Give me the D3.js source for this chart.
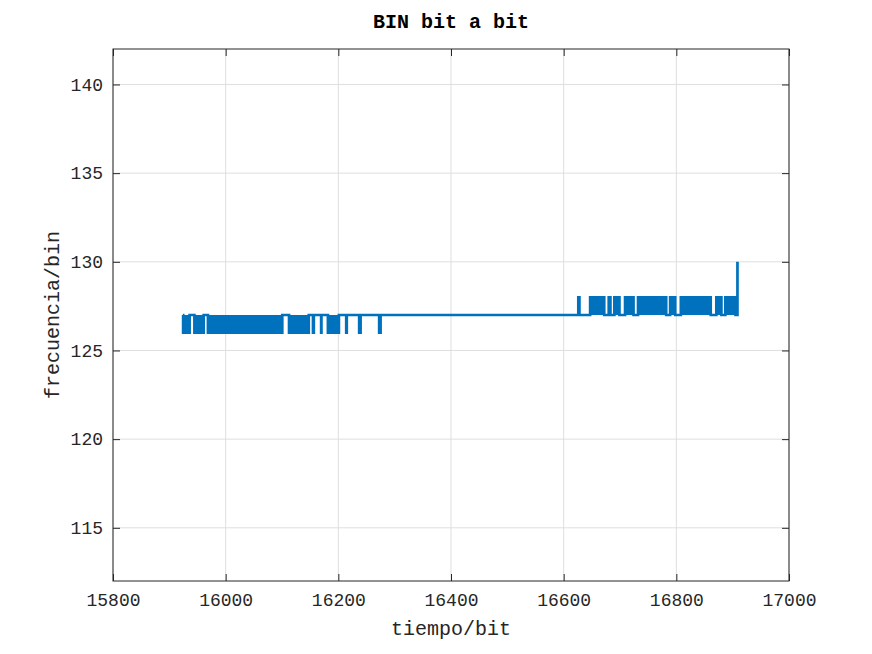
<!DOCTYPE html>
<html>
<head>
<meta charset="utf-8">
<script src="https://cdn.jsdelivr.net/npm/d3@7"></script>
<style>
  body { margin: 0; background: #fff; }
  svg text { font-family: "Liberation Mono", "Courier New", monospace; }
</style>
</head>
<body>
<div id="chart"></div>
<script>
// axis setup
var xDomain = [15800, 17000];
var yDomain = [112, 142];
var xTicks = [15800, 16000, 16200, 16400, 16600, 16800, 17000];
var yTicks = [115, 120, 125, 130, 135, 140];

// signal: it sits at 127 and toggles densely inside the blocks
var baseLevel = 127;
var baseStart = 15924;
var lowLevel = 126;
var lowStart = [15924.5, 15944.5, 15968.5, 16112.5, 16155, 16169.5, 16181.5, 16214, 16237, 16272.5];
var lowEnd   = [15936, 15961, 16100.5, 16147.5, 16156.5, 16170, 16201, 16215, 16239.5, 16275];
var highLevel = 128;
var highStart = [16626, 16647, 16680, 16690, 16709, 16732, 16789, 16808, 16871, 16887];
var highEnd   = [16628, 16672, 16683, 16699, 16724, 16782, 16798, 16861, 16880, 16905];
var lastX = 16908.5;
var lastLevel = 130;

var width = 872, height = 654;
var margin = {top: 49, right: 83, bottom: 73, left: 113};
var iw = width - margin.left - margin.right,
    ih = height - margin.top - margin.bottom;
var textColor = "#262626";

var svg = d3.select("#chart").append("svg")
  .attr("width", width)
  .attr("height", height);

var x = d3.scaleLinear().domain(xDomain).range([0, iw]);
var y = d3.scaleLinear().domain(yDomain).range([ih, 0]);

var g = svg.append("g")
  .attr("transform", `translate(${margin.left},${margin.top})`);

g.append("rect")
  .attr("width", iw).attr("height", ih)
  .attr("fill", "#fff");

// grid
g.append("g").selectAll("line")
  .data(xTicks)
  .enter().append("line")
  .attr("x1", d => x(d)).attr("x2", d => x(d))
  .attr("y1", 0).attr("y2", ih)
  .attr("stroke", "#dedede").attr("stroke-width", 1);
g.append("g").selectAll("line")
  .data(yTicks)
  .enter().append("line")
  .attr("y1", d => y(d)).attr("y2", d => y(d))
  .attr("x1", 0).attr("x2", iw)
  .attr("stroke", "#dedede").attr("stroke-width", 1);

// build the step points
var pts = [{x: baseStart, v: baseLevel}];
function addBlocks(starts, ends, level) {
  for (var i = 0; i < starts.length; i++) {
    pts.push({x: starts[i], v: baseLevel});
    pts.push({x: starts[i], v: level});
    pts.push({x: ends[i], v: level});
    pts.push({x: ends[i], v: baseLevel});
  }
}
addBlocks(lowStart, lowEnd, lowLevel);
addBlocks(highStart, highEnd, highLevel);
pts.push({x: lastX, v: baseLevel});
pts.push({x: lastX, v: lastLevel});

var blue = "#0072BD";

var area = d3.area()
  .x(d => x(d.x))
  .y0(y(baseLevel))
  .y1(d => y(d.v));
g.append("path")
  .datum(pts)
  .attr("d", area)
  .attr("fill", blue);

var line = d3.line()
  .x(d => x(d.x))
  .y(d => y(d.v));
g.append("path")
  .datum(pts)
  .attr("d", line)
  .attr("fill", "none")
  .attr("stroke", blue)
  .attr("stroke-width", 2.7)
  .attr("stroke-linejoin", "miter");

// axes (ticks inward, mirrored on all sides)
var tickLen = 7;
var fmt = d3.format("d");
var xAxis = g.append("g")
  .attr("transform", `translate(0,${ih})`)
  .call(d3.axisBottom(x).tickValues(xTicks).tickFormat(fmt).tickSizeInner(-tickLen).tickSizeOuter(0).tickPadding(12));
var xTop = g.append("g")
  .call(d3.axisTop(x).tickValues(xTicks).tickSizeInner(-tickLen).tickSizeOuter(0).tickFormat(""));
var yAxis = g.append("g")
  .call(d3.axisLeft(y).tickValues(yTicks).tickFormat(fmt).tickSizeInner(-tickLen).tickSizeOuter(0).tickPadding(10));
var yRight = g.append("g")
  .attr("transform", `translate(${iw},0)`)
  .call(d3.axisRight(y).tickValues(yTicks).tickSizeInner(-tickLen).tickSizeOuter(0).tickFormat(""));

[xAxis, xTop, yAxis, yRight].forEach(function(a) {
  a.select(".domain").remove();
  a.selectAll("line").attr("stroke", textColor).attr("stroke-width", 1);
  a.selectAll("text")
    .attr("fill", textColor)
    .style("font-size", "18px")
    .style("font-family", '"Liberation Mono", "Courier New", monospace');
});

g.append("rect")
  .attr("width", iw).attr("height", ih)
  .attr("fill", "none")
  .attr("stroke", textColor)
  .attr("stroke-width", 1);

// titles
svg.append("text")
  .attr("x", margin.left + iw / 2)
  .attr("y", 28)
  .attr("text-anchor", "middle")
  .style("font-size", "20px")
  .style("font-weight", "bold")
  .attr("fill", "#000")
  .text("BIN bit a bit");

svg.append("text")
  .attr("x", margin.left + iw / 2)
  .attr("y", 635)
  .attr("text-anchor", "middle")
  .style("font-size", "20px")
  .attr("fill", textColor)
  .text("tiempo/bit");

svg.append("text")
  .attr("transform", `translate(59,${margin.top + ih / 2}) rotate(-90)`)
  .attr("text-anchor", "middle")
  .style("font-size", "20px")
  .attr("fill", textColor)
  .text("frecuencia/bin");
</script>
</body>
</html>
